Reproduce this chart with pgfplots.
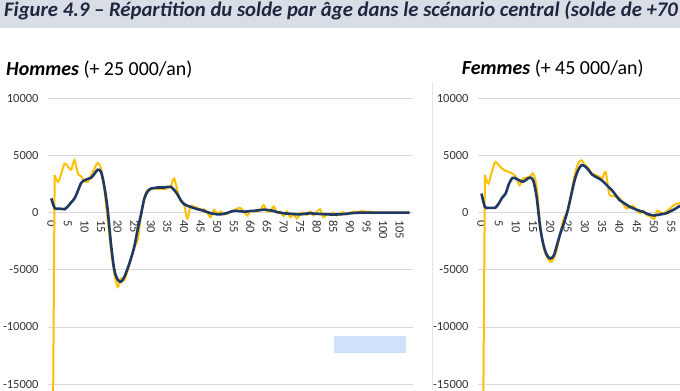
\documentclass[border=0pt]{standalone}
\usepackage{pgfplots}
\usepackage{pgfplotstable}
\pgfplotsset{compat=1.18}
\usepackage{fontspec}
\setmainfont{Carlito}
\definecolor{ygold}{HTML}{FFC000}
\definecolor{navy}{HTML}{1F3864}
\definecolor{titlebg}{HTML}{D9DEE6}
\definecolor{titletxt}{HTML}{1F2740}
\definecolor{gridc}{HTML}{D9D9D9}
\definecolor{ticktxt}{HTML}{333333}
\definecolor{boxblue}{HTML}{CFE2FA}

\pgfplotstableread{
age b y
0 1250 -40000
1 400 3270
2 350 2680
3 330 3410
4 300 4290
5 550 4050
6 900 3760
7 1250 4600
8 1900 3410
9 2600 3180
10 2830 2770
11 2950 2680
12 3050 3270
13 3400 3850
14 3750 4350
15 3550 3850
16 2250 1960
17 200 -650
18 -2800 -3290
19 -5030 -5330
20 -5850 -6500
21 -6050 -5760
22 -5620 -5910
23 -4890 -5040
24 -4010 -4010
25 -3000 -3000
26 -1500 -2400
27 -200 -300
28 1200 1300
29 1850 1960
30 2100 2100
31 2150 2150
32 2200 2050
33 2200 2100
34 2200 2050
35 2250 2150
36 2250 2300
37 2000 3000
38 1600 1900
39 1100 1000
40 750 700
41 600 -500
42 500 600
43 400 500
44 300 450
45 250 200
46 150 300
47 50 0
48 -50 -400
49 -100 250
50 -150 -100
51 -150 100
52 -100 -150
53 -30 -100
54 80 50
55 150 200
56 150 350
57 120 400
58 90 100
59 100 -250
60 150 100
61 150 150
62 200 100
63 220 250
64 260 650
65 240 150
66 200 100
67 150 550
68 50 0
69 0 100
70 -60 -300
71 -80 100
72 -100 -400
73 -120 -150
74 -150 -500
75 -150 -100
76 -120 0
77 -80 -200
78 -60 100
79 -80 -250
80 -100 50
81 -120 300
82 -130 -400
83 -150 -100
84 -160 -200
85 -170 0
86 -160 -250
87 -150 -100
88 -130 50
89 -100 -150
90 -60 -50
91 -30 100
92 -10 0
93 0 100
94 0 150
95 0 50
96 0 100
97 0 0
98 0 50
99 0 0
100 0 0
101 0 0
102 0 0
103 0 0
104 0 0
105 0 0
106 0 0
107 0 0
108 0 0
}\hommes

\pgfplotstableread{
age b y
0 1670 -40000
1 500 3270
2 420 2540
3 410 3560
4 420 4430
5 790 4140
6 1310 3850
7 1670 3650
8 2540 3560
9 3040 3410
10 2980 3120
11 2830 2400
12 2700 2980
13 2890 3060
14 3060 3120
15 2830 3410
16 1370 2250
17 -1250 -950
18 -2850 -3000
19 -3730 -3880
20 -4010 -4300
21 -3730 -4010
22 -2710 -3000
23 -1690 -1540
24 -820 -400
25 200 100
26 1520 1670
27 2830 3270
28 3700 4290
29 4150 4580
30 4050 4140
31 3750 3900
32 3350 3410
33 3150 3300
34 3000 3180
35 2800 3000
36 2500 3550
37 2200 1700
38 1900 1450
39 1500 1400
40 1100 1300
41 900 800
42 700 350
43 500 500
44 380 600
45 250 200
46 150 -50
47 50 150
48 -100 -250
49 -200 -300
50 -250 -550
51 -200 150
52 -150 0
53 -100 -50
54 0 200
55 150 450
56 300 700
57 500 800
58 650 900
59 800 950
60 900 1000
}\femmes

\pgfplotsset{panel/.style={
  scale only axis, height=297.3bp,
  ymin=-16000, ymax=10000, xmin=-1, xmax=109,
  axis x line*=middle, axis y line*=left,
  x axis line style={draw=gridc, line width=0.8bp},
  y axis line style={draw=none},
  scaled y ticks=false, scaled x ticks=false,
  ytick={-15000,-10000,-5000,0,5000,10000},
  yticklabels={-15000,-10000,-5000,0,5000,10000},
  ymajorgrids, grid style={draw=gridc, line width=0.8bp},
  major tick length=0pt,
  tick style={draw=none},
  tick label style={font=\fontsize{12.5}{12.5}\selectfont, text=ticktxt},
  xticklabel style={yshift=-4bp, rotate=-90, anchor=west},
  yticklabel style={xshift=-6bp},
  clip=true,
}}

\begin{document}
\begin{tikzpicture}
\useasboundingbox (0,0) rectangle (680bp,391bp);
\clip (0,0) rectangle (680bp,391bp);
\fill[white] (0,0) rectangle (680bp,391bp);
\fill[titlebg] (0,362.5bp) rectangle (680bp,391bp);
\node[anchor=base west, inner sep=0, text=titletxt, font=\fontsize{20.8}{20.8}\selectfont\bfseries\itshape] at (4bp,374.3bp) {Figure 4.9 – Répartition du solde par âge dans le scénario central (solde de +70};
\node[anchor=base west, inner sep=0, font=\fontsize{20}{20}\selectfont] at (6bp,315.3bp) {\textbf{\textit{Hommes}} (+ 25 000/an)};
\node[anchor=base west, inner sep=0, font=\fontsize{20}{20}\selectfont] at (461.7bp,316bp) {\textbf{\textit{Femmes}} (+ 45 000/an)};
\draw[gray!20, line width=0.6bp] (432bp,309bp) -- (432bp,-2bp);

\begin{axis}[panel, width=365bp, at={(48bp,-4.6bp)}, anchor=south west,
  xtick={0,5,10,15,20,25,30,35,40,45,50,55,60,65,70,75,80,85,90,95,100,105},
  xticklabels={0,5,10,15,20,25,30,35,40,45,50,55,60,65,70,75,80,85,90,95,100,105}]
\addplot[ygold, line width=2bp] coordinates {(0,-40000) (1,3270)};
\addplot[ygold, line width=2bp, smooth, tension=0.5, skip coords between index={0}{1}] table[x=age, y=y] {\hommes};
\addplot[navy, line width=2.6bp, smooth, tension=0.5] table[x=age, y=b] {\hommes};
\end{axis}
\fill[boxblue] (334bp,38.3bp) rectangle (405.7bp,55.3bp);

\begin{axis}[panel, width=379.5bp, at={(478bp,-4.6bp)}, anchor=south west,
  xtick={0,5,10,15,20,25,30,35,40,45,50,55},
  xticklabels={0,5,10,15,20,25,30,35,40,45,50,55}]
\addplot[ygold, line width=2bp] coordinates {(0,-40000) (1,3270)};
\addplot[ygold, line width=2bp, smooth, tension=0.5, skip coords between index={0}{1}] table[x=age, y=y] {\femmes};
\addplot[navy, line width=2.6bp, smooth, tension=0.5] table[x=age, y=b] {\femmes};
\end{axis}
\end{tikzpicture}
\end{document}
